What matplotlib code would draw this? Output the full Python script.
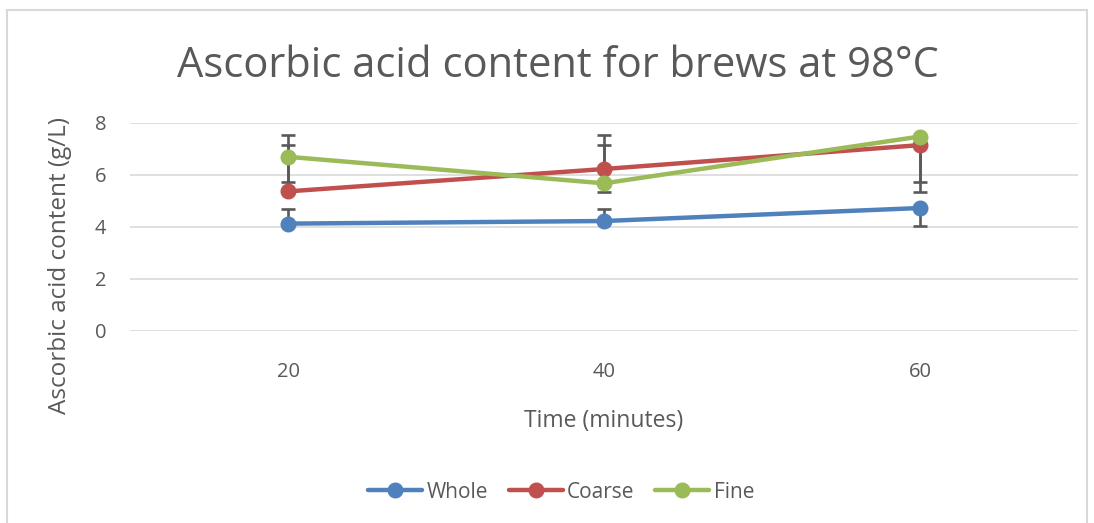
import matplotlib
matplotlib.use("Agg")
import matplotlib.pyplot as plt
from matplotlib.patches import Rectangle
import numpy as np

plt.rcParams['font.family'] = ['Open Sans', 'DejaVu Sans']

categories = ["20", "40", "60"]
whole = [4.13, 4.23, 4.73]
coarse = [5.37, 6.23, 7.15]
fine = [6.70, 5.68, 7.48]

whole_err_lo = [0.0, 0.0, 0.69]
whole_err_hi = [0.56, 0.46, 0.0]
coarse_err_lo = [0.0, 0.0, 1.80]
coarse_err_hi = [1.78, 1.31, 0.0]
fine_err_lo = [0.97, 0.33, 1.75]
fine_err_hi = [0.84, 1.47, 0.0]

title = "Ascorbic acid content for brews at 98°C"
xlabel = "Time (minutes)"
ylabel = "Ascorbic acid content (g/L)"

W, H = 1094, 523
fig = plt.figure(figsize=(W/100, H/100), dpi=100)
fig.patches.append(Rectangle((7/W, -0.01), (1087-7)/W, 1 - 10/H + 0.01,
                             transform=fig.transFigure, fill=False,
                             edgecolor='#D9D9D9', linewidth=1.5))

ax = fig.add_axes([130/W, 1-331/H, (1078-130)/W, (331-123)/H])
x = np.arange(len(categories))

series = [("Whole", whole, whole_err_lo, whole_err_hi, '#4F81BD'),
          ("Coarse", coarse, coarse_err_lo, coarse_err_hi, '#C0504D'),
          ("Fine", fine, fine_err_lo, fine_err_hi, '#9BBB59')]

for name, vals, lo, hi, col in series:
    ax.errorbar(x, vals, yerr=[lo, hi], fmt='none', ecolor='#595959',
                elinewidth=1.9, capsize=5, capthick=1.9, zorder=2)
for name, vals, lo, hi, col in series:
    ax.plot(x, vals, color=col, linewidth=3.2, marker='o', markersize=10.5,
            label=name, zorder=3, solid_capstyle='round')

ax.set_xlim(-0.5, 2.5)
ax.set_ylim(0, 8)
ax.set_yticks([0, 2, 4, 6, 8])
ax.set_xticks(x)
ax.set_xticklabels(categories)
ax.grid(axis='y', color='#D9D9D9', linewidth=1.2)
ax.set_axisbelow(True)
for s in ax.spines.values():
    s.set_visible(False)
ax.tick_params(axis='both', length=0, labelsize=14.5, colors='#595959')
ax.tick_params(axis='y', pad=17)
ax.tick_params(axis='x', pad=22)

fig.text(558/W, 1-66/H, title, ha='center', va='center', fontsize=30, color='#595959')
fig.text(604/W, 1-421/H, xlabel, ha='center', va='center', fontsize=16.5, color='#595959')
fig.text(60/W, 1-265/H, ylabel, ha='center', va='center', fontsize=17.5,
         color='#595959', rotation=90)

leg = fig.legend(loc='center', bbox_to_anchor=(561/W, 1-492/H), ncol=3, frameon=False,
                 fontsize=15, handlelength=2.6, columnspacing=1.0, handletextpad=0.2)
for t in leg.get_texts():
    t.set_color('#595959')

fig.savefig("out.png", dpi=100)
